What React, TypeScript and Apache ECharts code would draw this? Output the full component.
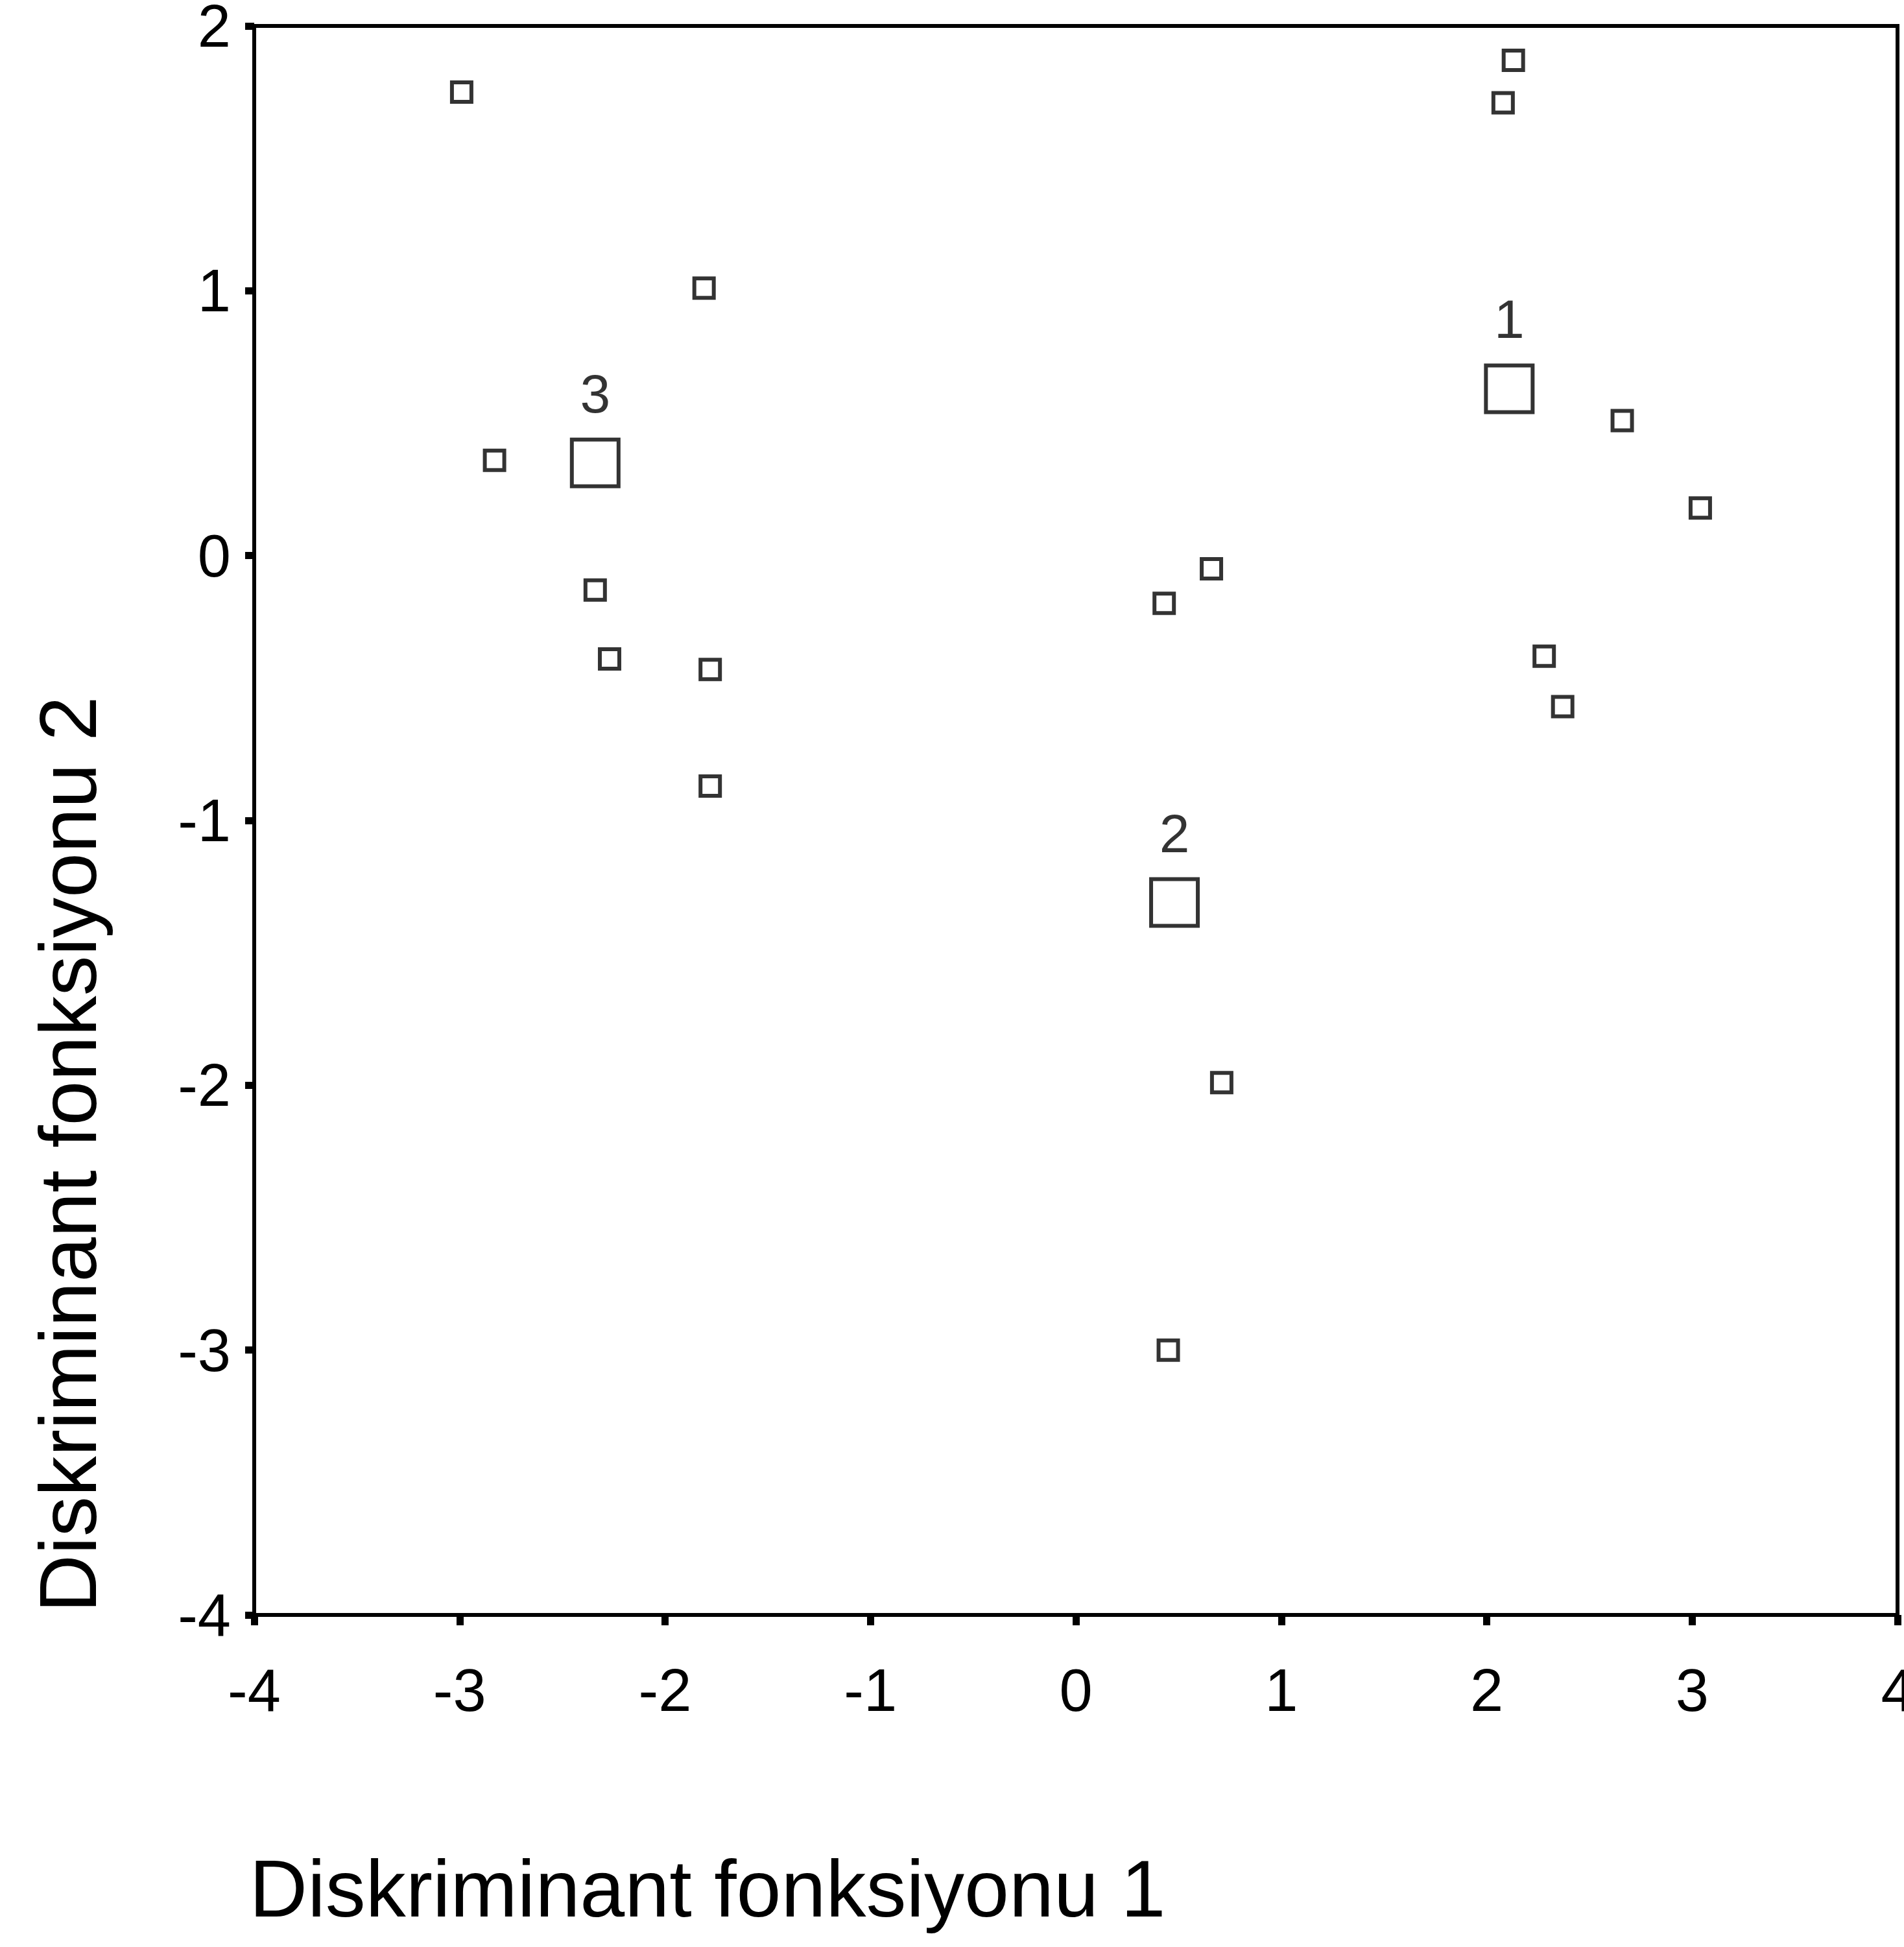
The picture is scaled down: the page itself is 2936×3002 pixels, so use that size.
import React, { useEffect, useRef } from "react";
import * as echarts from "echarts";

// Individual cases (discriminant scores)
const caseX = [-2.99, -1.81, -2.83, -2.34, -2.27, -1.78, -1.78, 0.43, 0.66, 0.71, 0.45, 2.13, 2.08, 2.66, 3.04, 2.28, 2.37];
const caseY = [1.75, 1.01, 0.36, -0.13, -0.39, -0.43, -0.87, -0.18, -0.05, -1.99, -3.0, 1.87, 1.71, 0.51, 0.18, -0.38, -0.57];

// Group centroids
const centroidX = [2.11, 0.48, -2.34];
const centroidY = [0.63, -1.31, 0.35];
const centroidLabels = ["1", "2", "3"];

const xTitle = "Diskriminant fonksiyonu 1";
const yTitle = "Diskriminant fonksiyonu 2";

const FONT = "'Liberation Sans', Arial, sans-serif";

export default function App() {
  const ref = useRef<HTMLDivElement>(null);
  useEffect(() => {
    document.body.style.margin = "0";
    document.documentElement.style.overflow = "hidden";
    const chart = echarts.init(ref.current!, null, { renderer: "svg", width: 2936, height: 3002 });
    const caseData = caseX.map((x, i) => [x, caseY[i]]);
    const centroidData = centroidX.map((x, i) => ({ value: [x, centroidY[i]], name: centroidLabels[i] }));
    chart.setOption({
      animation: false,
      backgroundColor: "#ffffff",
      grid: {
        left: 392,
        top: 40,
        right: 10,
        bottom: 512,
        containLabel: false,
        outerBoundsMode: "none",
        show: true,
        borderColor: "#000",
        borderWidth: 6,
      },
      xAxis: {
        type: "value",
        min: -4,
        max: 4,
        interval: 1,
        splitLine: { show: false },
        axisLine: { show: true, onZero: false, lineStyle: { color: "#000", width: 6 } },
        axisTick: { show: true, inside: false, length: 16, lineStyle: { color: "#000", width: 11 } },
        axisLabel: { color: "#000", fontSize: 92, lineHeight: 80, fontFamily: FONT, margin: 76 },
      },
      yAxis: {
        type: "value",
        min: -4,
        max: 2,
        interval: 1,
        splitLine: { show: false },
        axisLine: { show: true, onZero: false, lineStyle: { color: "#000", width: 6 } },
        axisTick: { show: true, inside: false, length: 14, lineStyle: { color: "#000", width: 11 } },
        axisLabel: { color: "#000", fontSize: 92, lineHeight: 70, fontFamily: FONT, margin: 36 },
      },
      graphic: [
        {
          type: "text",
          x: 1091,
          y: 2912,
          style: {
            text: xTitle,
            font: `124px ${FONT}`,
            fill: "#000",
            textAlign: "center",
            textVerticalAlign: "middle",
            align: "center",
            verticalAlign: "middle",
          },
        },
        {
          type: "text",
          x: 105,
          y: 1780,
          rotation: Math.PI / 2,
          style: {
            text: yTitle,
            font: `124px ${FONT}`,
            fill: "#000",
            textAlign: "center",
            textVerticalAlign: "middle",
            align: "center",
            verticalAlign: "middle",
          },
        },
      ],
      series: [
        {
          type: "scatter",
          data: caseData,
          symbol: "rect",
          symbolSize: 30,
          itemStyle: { color: "#fff", borderColor: "#000", borderWidth: 6 },
        },
        {
          type: "scatter",
          data: centroidData,
          symbol: "rect",
          symbolSize: 72,
          itemStyle: { color: "#fff", borderColor: "#000", borderWidth: 6 },
          label: {
            show: true,
            position: "top",
            distance: 26,
            formatter: "{b}",
            color: "#000",
            fontSize: 84,
            fontFamily: FONT,
          },
        },
      ],
    });
    return () => chart.dispose();
  }, []);
  return <div ref={ref} style={{ position: "absolute", left: 0, top: 0, width: 2936, height: 3002 }} />;
}
